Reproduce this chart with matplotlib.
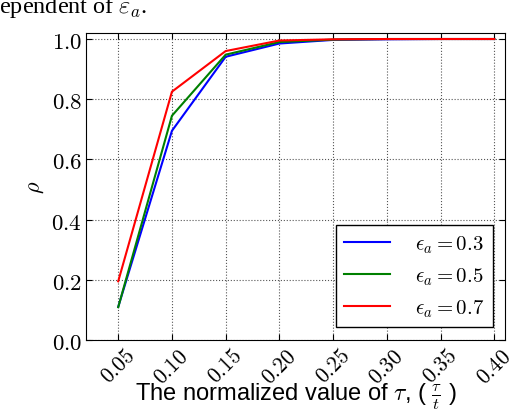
import matplotlib
matplotlib.use("Agg")
import matplotlib.pyplot as plt

plt.rcParams['mathtext.fontset'] = 'cm'
plt.rcParams['font.family'] = ['Liberation Sans', 'DejaVu Sans']

# data
tau = [0.05, 0.10, 0.15, 0.20, 0.25, 0.30, 0.35, 0.40]
rho_03 = [0.11, 0.695, 0.941, 0.985, 0.997, 0.999, 1.0, 1.0]
rho_05 = [0.109, 0.745, 0.948, 0.990, 0.998, 1.0, 1.0, 1.0]
rho_07 = [0.195, 0.825, 0.960, 0.995, 0.999, 1.0, 1.0, 1.0]
labels = [r'$\epsilon_a = 0.3$', r'$\epsilon_a = 0.5$', r'$\epsilon_a = 0.7$']
xticklabels = ['0.05', '0.10', '0.15', '0.20', '0.25', '0.30', '0.35', '0.40']
yticks = [0.0, 0.2, 0.4, 0.6, 0.8, 1.0]
yticklabels = ['0.0', '0.2', '0.4', '0.6', '0.8', '1.0']

fig = plt.figure(figsize=(5.1, 4.1), dpi=100)
ax = fig.add_axes([0.1686, 0.1683, 0.8216, 0.7488])

ax.plot(tau, rho_03, color='#0000ff', lw=1.5, label=labels[0])
ax.plot(tau, rho_05, color='#008000', lw=1.5, label=labels[1])
ax.plot(tau, rho_07, color='#ff0000', lw=1.5, label=labels[2])

ax.set_xlim(0.02, 0.41)
ax.set_ylim(0.0, 1.02)
ax.set_xticks(tau)
ax.set_xticklabels(['$' + s + '$' for s in xticklabels], rotation=45, fontsize=15.5)
ax.set_yticks(yticks)
ax.set_yticklabels(['$' + s + '$' for s in yticklabels], fontsize=16.5)
ax.tick_params(direction='in', top=True, right=True, length=4, pad=3)
ax.tick_params(axis='x', pad=3.5)
ax.grid(True, linestyle=':', color='#555555', lw=0.8)

ax.set_xlabel(r'The normalized value of $\tau$, ( $\frac{\tau}{t}$ )', fontsize=17, va='baseline')
ax.xaxis.set_label_coords(0.5, -0.192)
ax.set_ylabel(r'$\rho$', fontsize=16)

leg = ax.legend(loc='lower right', fontsize=15, fancybox=False, framealpha=1,
                edgecolor='black', handlelength=2.2, handletextpad=1.2, borderaxespad=0.6)
leg.get_frame().set_linewidth(1.0)

# cropped caption text from the page above the figure
fig.text(-0.026, 0.968, r'dependent of $\varepsilon_a$.', fontsize=17.5,
         family=['Liberation Serif'], ha='left', va='baseline')

fig.savefig('out.png', dpi=100)
